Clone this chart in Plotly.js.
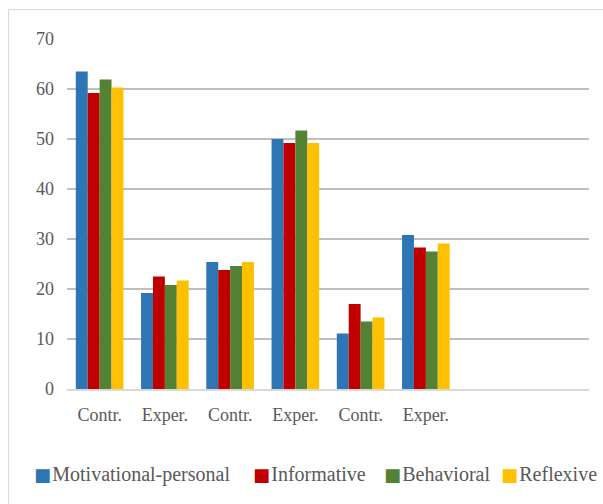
<!DOCTYPE html>
<html>
<head>
<meta charset="utf-8">
<script src="https://cdn.plot.ly/plotly-3.0.1.min.js"></script>
<style>
  html, body { margin: 0; padding: 0; background: #ffffff; }
  #wrap { position: relative; width: 603px; height: 504px; overflow: hidden; }
  #frame { position: absolute; left: 8px; top: 9px; width: 600px; height: 520px; border: 1px solid #d9d9d9; box-sizing: border-box; pointer-events: none; }
  #chart { position: absolute; left: 0; top: 0; width: 603px; height: 504px; }
</style>
</head>
<body>
<div id="wrap">
  <div id="chart"></div>
  <div id="frame"></div>
</div>
<script>
const categories = ['Contr.', 'Exper.', 'Contr.', 'Exper.', 'Contr.', 'Exper.'];
const seriesNames = ['Motivational-personal', 'Informative', 'Behavioral', 'Reflexive'];
const motivational = [63.5, 19.2, 25.4, 50.0, 11.1, 30.8];
const informative  = [59.2, 22.5, 23.8, 49.2, 17.0, 28.3];
const behavioral   = [61.9, 20.8, 24.6, 51.7, 13.5, 27.5];
const reflexive    = [60.3, 21.7, 25.4, 49.2, 14.3, 29.1];
const colors = ['#2E75B6', '#C00000', '#548235', '#FFC000'];

const positions = categories.map((c, i) => i);
const allSeries = [motivational, informative, behavioral, reflexive];

const traces = allSeries.map((vals, k) => ({
  type: 'bar',
  name: seriesNames[k],
  x: positions,
  y: vals,
  marker: { color: colors[k], line: { width: 0 } },
  hoverinfo: 'name+y',
  showlegend: false
}));

const serif = '"Liberation Serif", "Times New Roman", serif';
const grey = '#595959';

// Legend drawn as text annotations: colored square glyph + series name
const legendStartsPx = [32, 251, 382, 499];
const legendAnnotations = seriesNames.map((name, k) => ({
  xref: 'paper', yref: 'paper',
  x: (legendStartsPx[k] - 67) / 522,
  y: (389 - 474) / 350,
  xanchor: 'left', yanchor: 'middle',
  showarrow: false,
  text: '<span style="color:' + colors[k] + ';font-family:DejaVu Sans;font-size:18px">■</span><span style="font-size:5px"> </span>' + name,
  font: { family: serif, size: 20, color: grey }
}));

const layout = {
  width: 603,
  height: 504,
  margin: { l: 67, r: 14, t: 39, b: 115, autoexpand: false },
  paper_bgcolor: '#ffffff',
  plot_bgcolor: '#ffffff',
  barmode: 'group',
  bargap: 0.27,
  bargroupgap: 0,
  showlegend: false,
  annotations: legendAnnotations,
  xaxis: {
    range: [-0.5, 7.5],
    tickmode: 'array',
    tickvals: positions,
    ticktext: categories,
    tickfont: { family: serif, size: 18, color: grey },
    showgrid: false,
    zeroline: false,
    showline: true,
    linecolor: '#d9d9d9',
    linewidth: 2,
    ticks: '',
    ticklabelstandoff: 8,
    fixedrange: true
  },
  yaxis: {
    range: [0, 70],
    tickmode: 'linear',
    tick0: 0,
    dtick: 10,
    tickfont: { family: serif, size: 18, color: grey },
    showgrid: true,
    gridcolor: '#bfbfbf',
    gridwidth: 2,
    zeroline: false,
    showline: false,
    ticks: '',
    ticklabelstandoff: 12,
    fixedrange: true
  }
};

Plotly.newPlot('chart', traces, layout, { displayModeBar: false, staticPlot: true });
</script>
</body>
</html>
